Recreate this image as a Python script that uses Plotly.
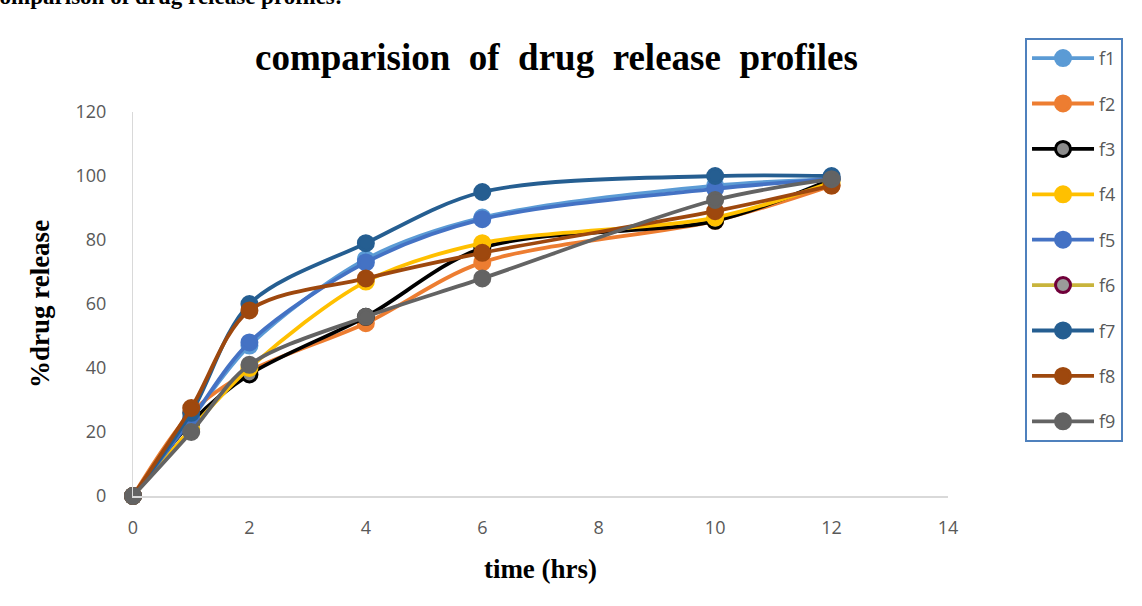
import plotly.graph_objects as go

# Sampling times (hours)
time_hrs = [0, 1, 2, 4, 6, 10, 12]

# Cumulative % drug release per formulation
f1 = [0, 24, 47, 74, 87, 97, 99]
f2 = [0, 26, 39, 54, 73, 86, 97]
f3 = [0, 23, 38, 56, 77.5, 86, 99]
f4 = [0, 21, 40, 67, 79, 87, 98]
f5 = [0, 24, 48, 73, 86.5, 96, 99]
f6 = [None, None, None, None, None, None, None]
f7 = [0, 26, 60, 79, 95, 100, 100]
f8 = [0, 27.5, 58, 68, 76, 89, 97]
f9 = [0, 20, 41, 56, 68, 92.5, 99]

series = [
    ("f1", f1, "#5B9BD5", "#5B9BD5", "#5B9BD5"),
    ("f2", f2, "#ED7D31", "#ED7D31", "#ED7D31"),
    ("f3", f3, "#000000", "#8C8C8C", "#000000"),
    ("f4", f4, "#FFC000", "#FFC000", "#FFC000"),
    ("f5", f5, "#4472C4", "#4472C4", "#4472C4"),
    ("f6", f6, "#C8B43C", "#9A9A9A", "#70003A"),
    ("f7", f7, "#255E91", "#255E91", "#255E91"),
    ("f8", f8, "#9E480E", "#9E480E", "#9E480E"),
    ("f9", f9, "#636363", "#636363", "#636363"),
]

fig = go.Figure()
for name, vals, line_c, fill_c, edge_c in series:
    fig.add_trace(go.Scatter(
        x=time_hrs, y=vals, name=name, mode="lines+markers",
        line=dict(color=line_c, width=3.8, shape="spline", smoothing=0.9),
        marker=dict(size=15, color=fill_c, line=dict(color=edge_c, width=3)),
        legendgroup=name, cliponaxis=False,
    ))

serif = "Liberation Serif"
sans = "Open Sans"

fig.update_layout(
    width=1142, height=606,
    margin=dict(l=133, r=194, t=112, b=110),
    paper_bgcolor="white", plot_bgcolor="white",
    showlegend=True,
    legend=dict(
        x=1.0945, y=1.193, xanchor="left", yanchor="top",
        bordercolor="#4F81BD", borderwidth=2,
        font=dict(family=sans, size=18, color="#595959"),
        traceorder="grouped", tracegroupgap=19,
        itemwidth=62, maxheight=0.9,
    ),
    xaxis=dict(
        range=[0, 14], dtick=2, showgrid=False, zeroline=False,
        showline=True, linecolor="#D9D9D9", linewidth=2,
        ticks="", tickfont=dict(family=sans, size=18, color="#595959"),
        ticklabelstandoff=14,
        title=dict(text="<b>time (hrs)</b>", font=dict(family=serif, size=27, color="#000000"),
                   standoff=22),
    ),
    yaxis=dict(
        range=[0, 120], dtick=20, showgrid=False, zeroline=False,
        showline=True, linecolor="#D9D9D9", linewidth=1,
        ticks="", tickfont=dict(family=sans, size=18, color="#595959"),
        ticklabelstandoff=22,
        title=dict(text="<b>%drug release</b>", font=dict(family=serif, size=27, color="#000000"),
                   standoff=18),
    ),
    annotations=[
        dict(text="<b>comparision  of  drug  release  profiles</b>",
             xref="paper", yref="paper", x=0.52, y=1.142,
             xanchor="center", yanchor="middle", showarrow=False,
             font=dict(family=serif, size=37, color="#000000")),
        dict(text="<b>Comparison of drug release profiles:</b>",
             xref="paper", yref="paper", x=-0.187, y=1.30,
             xanchor="left", yanchor="middle", showarrow=False,
             font=dict(family=serif, size=23, color="#000000")),
    ],
)

fig.write_html("out.html")
